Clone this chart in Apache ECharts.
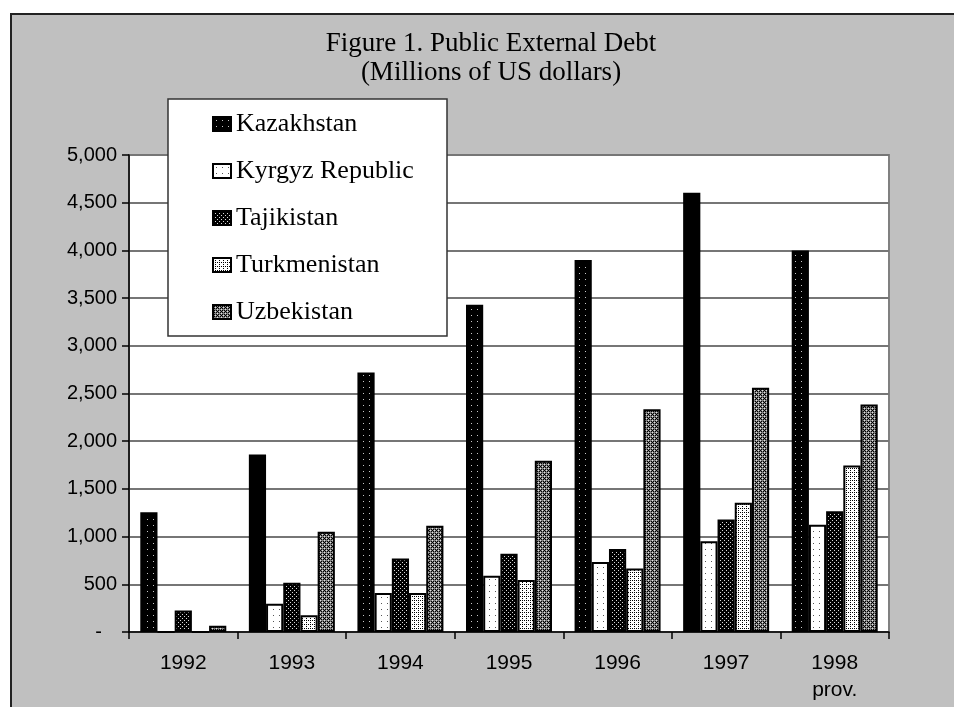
<!DOCTYPE html>
<html>
<head>
<meta charset="utf-8">
<title>Public External Debt</title>
<script src="https://cdn.jsdelivr.net/npm/echarts@6/dist/echarts.min.js"></script>
<style>
  html, body { margin: 0; padding: 0; background: #fff; }
  #chart { width: 954px; height: 707px; }
</style>
</head>
<body>
<div id="chart"></div>
<script>
// Public external debt, millions of US dollars
const years = ['1992', '1993', '1994', '1995', '1996', '1997', '1998\nprov.'];
const countries = ['Kazakhstan', 'Kyrgyz Republic', 'Tajikistan', 'Turkmenistan', 'Uzbekistan'];
const kazakhstan   = [1255, 1860, 2720, 3430, 3900, 4605, 4000];
const kyrgyz       = [0, 295, 410, 590, 735, 950, 1125];
const tajikistan   = [225, 515, 770, 820, 870, 1180, 1265];
const turkmenistan = [0, 175, 410, 545, 665, 1355, 1745];
const uzbekistan   = [65, 1050, 1115, 1795, 2335, 2560, 2385];
const yTicks = { min: 0, max: 5000, step: 500 };

// Small bitmap fills giving each country its hatched/dotted look
function makePattern(w, h, bg, painter) {
  const c = document.createElement('canvas');
  c.width = w; c.height = h;
  const ctx = c.getContext('2d');
  ctx.fillStyle = bg;
  ctx.fillRect(0, 0, w, h);
  painter(ctx);
  return { image: c, repeat: 'repeat' };
}
function dot(ctx, color, pts) {
  ctx.fillStyle = color;
  pts.forEach(p => ctx.fillRect(p[0], p[1], 1, 1));
}
const fills = [
  makePattern(6, 6, '#000', ctx => dot(ctx, '#c8c8c8', [[3, 3]])),
  makePattern(6, 6, '#fff', ctx => dot(ctx, '#555', [[3, 3]])),
  makePattern(4, 4, '#000', ctx => dot(ctx, '#d8d8d8', [[0, 0], [2, 2]])),
  makePattern(4, 4, '#fff', ctx => dot(ctx, '#000', [[0, 0], [2, 2], [2, 0]])),
  makePattern(4, 4, '#808080', ctx => {
    dot(ctx, '#000', [[1, 1], [3, 3], [1, 3], [3, 1], [0, 2]]);
    dot(ctx, '#e0e0e0', [[0, 0], [2, 2]]);
  })
];

// Two Kazakhstan columns render as plain black
const solidBlack = { '1993': true, '1997': true };
const seriesValues = [kazakhstan, kyrgyz, tajikistan, turkmenistan, uzbekistan];

const serif = 'Liberation Serif, Times New Roman, serif';
const sans = 'Liberation Sans, Arial, sans-serif';

const series = countries.map((name, i) => ({
  name,
  type: 'bar',
  barWidth: 17.2,
  barGap: '0%',
  itemStyle: { color: fills[i], borderColor: '#000', borderWidth: 2 },
  data: seriesValues[i].map((v, j) =>
    (i === 0 && solidBlack[years[j]]) ? { value: v, itemStyle: { color: '#000' } } : v)
}));

const chart = echarts.init(document.getElementById('chart'), null, { renderer: 'canvas' });
chart.setOption({
  backgroundColor: '#fff',
  animation: false,
  graphic: [
    { type: 'rect', z: -10, shape: { x: 11, y: 14, width: 1000, height: 800 },
      style: { fill: '#c0c0c0', stroke: '#222', lineWidth: 2 } },
    { type: 'rect', z: 50, shape: { x: 168, y: 99, width: 279, height: 237 },
      style: { fill: '#fff', stroke: '#333', lineWidth: 1.5 } }
  ],
  title: {
    text: 'Figure 1. Public External Debt\n(Millions of US dollars)',
    left: 491, top: 29, padding: 0, textAlign: 'center',
    textStyle: { fontFamily: serif, fontSize: 27, fontWeight: 'normal', color: '#000', lineHeight: 29 }
  },
  legend: {
    z: 60,
    orient: 'vertical',
    left: 212, top: 111, padding: 0,
    itemWidth: 18, itemHeight: 14, itemGap: 21,
    icon: 'rect',
    textStyle: { fontFamily: serif, fontSize: 26, color: '#000' },
    data: countries
  },
  grid: {
    left: 129, right: 65, top: 155, bottom: 75,
    show: true, backgroundColor: '#fff', borderColor: '#808080', borderWidth: 2
  },
  xAxis: {
    type: 'category',
    data: years,
    boundaryGap: true,
    axisLine: { lineStyle: { color: '#000', width: 1.5 } },
    axisTick: { show: true, length: 7, alignWithLabel: false, interval: 0, lineStyle: { color: '#000', width: 1.5 } },
    axisLabel: { fontFamily: sans, fontSize: 21, color: '#000', margin: 18, lineHeight: 27, interval: 0 }
  },
  yAxis: {
    type: 'value',
    min: yTicks.min, max: yTicks.max, interval: yTicks.step,
    axisLine: { show: true, lineStyle: { color: '#000', width: 1.5 } },
    axisTick: { show: true, length: 7, lineStyle: { color: '#000', width: 1.5 } },
    splitLine: { lineStyle: { color: '#767676', width: 2 } },
    axisLabel: {
      fontFamily: sans, fontSize: 20, color: '#000', margin: 12,
      formatter: v => v === 0 ? '{d|-}' : v.toLocaleString('en-US'),
      rich: { d: { fontFamily: sans, fontSize: 20, color: '#000', padding: [0, 15, 0, 0] } }
    }
  },
  series
});
</script>
</body>
</html>
